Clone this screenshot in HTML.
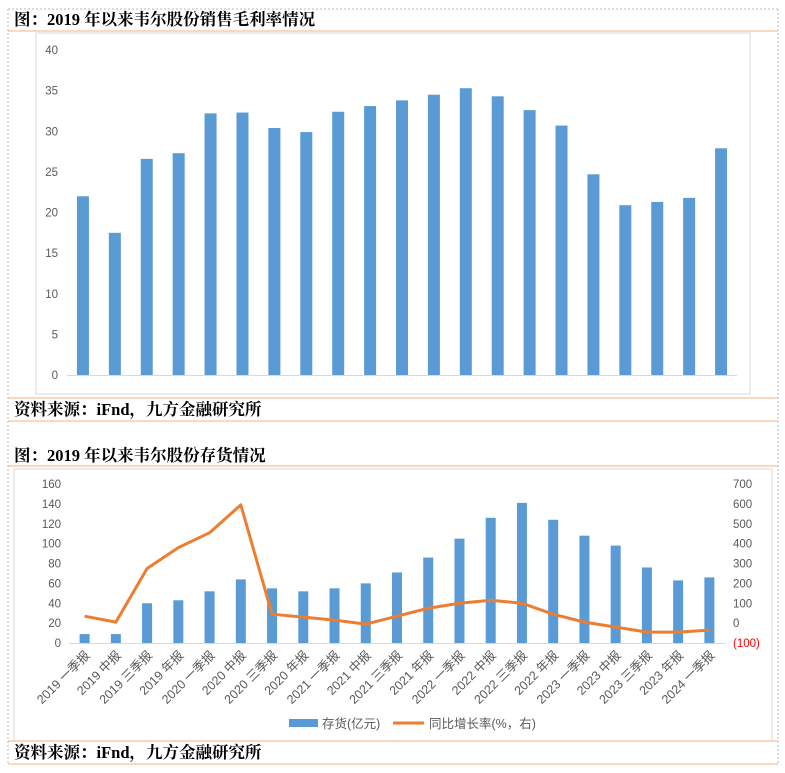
<!DOCTYPE html>
<html><head><meta charset="utf-8"><style>
body{margin:0;background:#fff;width:785px;height:773px;overflow:hidden;font-family:"Liberation Sans","Noto Sans CJK SC",sans-serif}
svg{display:block}
.t{font-family:"Liberation Serif","Noto Serif CJK SC",serif;font-weight:bold;font-size:16.5px;fill:#000}
.ax{font-size:11.5px;fill:#595959}
.xl{font-size:12.5px;fill:#595959}
</style></head><body>
<svg width="785" height="773">
<line x1="8" y1="9" x2="778" y2="9" stroke="#bbb" stroke-dasharray="2,2"/>
<line x1="8" y1="9" x2="8" y2="765" stroke="#bbb" stroke-dasharray="2,2"/>
<line x1="778" y1="9" x2="778" y2="765" stroke="#bbb" stroke-dasharray="2,2"/>
<text class="t" x="14" y="25">图：2019 年以来韦尔股份销售毛利率情况</text>
<line x1="8" y1="31" x2="778" y2="31" stroke="#f4b183"/>
<rect x="36" y="33" width="714" height="361" fill="#fff" stroke="#d9d9d9"/>
<g id="c1"></g>
<line x1="8" y1="398" x2="778" y2="398" stroke="#f4b183"/>
<text class="t" x="14" y="415">资料来源：iFnd，九方金融研究所</text>
<line x1="8" y1="421" x2="778" y2="421" stroke="#f4b183"/>
<text class="t" x="14" y="461">图：2019 年以来韦尔股份存货情况</text>
<line x1="8" y1="466" x2="778" y2="466" stroke="#f4b183"/>
<rect x="14" y="469" width="758" height="272" fill="#fff" stroke="#d9d9d9"/>
<g id="c2"></g>
<line x1="8" y1="741" x2="778" y2="741" stroke="#f4b183"/>
<text class="t" x="14" y="758">资料来源：iFnd，九方金融研究所</text>
<line x1="8" y1="764" x2="778" y2="764" stroke="#f4b183"/>
</svg>
<script>
const margin=[22.0,17.5,26.6,27.3,32.2,32.3,30.4,29.9,32.4,33.1,33.8,34.5,35.3,34.3,32.6,30.7,24.7,20.9,21.3,21.8,27.9];
const marginTicks=[0,5,10,15,20,25,30,35,40];
const cats=["2019 一季报","2019 中报","2019 三季报","2019 年报","2020 一季报","2020 中报","2020 三季报","2020 年报","2021 一季报","2021 中报","2021 三季报","2021 年报","2022 一季报","2022 中报","2022 三季报","2022 年报","2023 一季报","2023 中报","2023 三季报","2023 年报","2024 一季报"];
const inventory=[9,9,40,43,52,64,55,52,55,60,71,86,105,126,141,124,108,98,76,63,66];
const growth=[35,5,275,380,455,595,45,30,15,-5,35,75,100,115,100,45,5,-20,-45,-45,-35];
const leftTicks=[0,20,40,60,80,100,120,140,160];
const rightTicks=["(100)","0","100","200","300","400","500","600","700"];
const NS="http://www.w3.org/2000/svg";
function mk(p,t,a){const e=document.createElementNS(NS,t);for(const k in a)e.setAttribute(k,a[k]);p.appendChild(e);return e;}
const g1=document.getElementById('c1');
const x1=i=>67+(i+0.5)*(670/margin.length);
const y1=v=>375-v*(325/40);
mk(g1,'line',{x1:67,x2:737,y1:375.5,y2:375.5,stroke:'#d9d9d9'});
marginTicks.forEach(v=>{const t=mk(g1,'text',{x:58,y:y1(v)+4,'text-anchor':'end',class:'ax'});t.textContent=v;

});
margin.forEach((v,i)=>{const r=mk(g1,'rect',{x:x1(i)-6,y:y1(v),width:12,height:375-y1(v),fill:'#5b9bd5'});

});
const g2=document.getElementById('c2');
const x2=i=>69+(i+0.5)*(656/cats.length);
const yl=v=>643-v*(159/160);
const yr=v=>643-(v+100)*(159/800);
mk(g2,'line',{x1:69,x2:725,y1:643.5,y2:643.5,stroke:'#d9d9d9'});
leftTicks.forEach(v=>{const t=mk(g2,'text',{x:61,y:yl(v)+4,'text-anchor':'end',class:'ax'});t.textContent=v;

});
rightTicks.forEach((s,k)=>{const t=mk(g2,'text',{x:733,y:yr(-100+k*100)+4,class:'ax'});t.textContent=s;if(k==0)t.style.fill='#ff0000';

});
inventory.forEach((v,i)=>{const r=mk(g2,'rect',{x:x2(i)-5,y:yl(v),width:10,height:643-yl(v),fill:'#5b9bd5'});

});
const pl=mk(g2,'polyline',{points:growth.map((v,i)=>x2(i)+','+yr(v)).join(' '),fill:'none',stroke:'#ed7d31','stroke-width':3,'stroke-linejoin':'round'});


cats.forEach((c,i)=>{const t=mk(g2,'text',{x:x2(i)+6,y:656,'text-anchor':'end',class:'xl',transform:`rotate(-45 ${x2(i)+6} 656)`});t.textContent=c;

});
const lg=mk(g2,'g',{});


mk(lg,'rect',{x:289,y:719,width:29,height:8,fill:'#5b9bd5'});
const l1=mk(lg,'text',{x:322,y:728,class:'xl'});l1.textContent='存货(亿元)';
mk(lg,'line',{x1:393,x2:424,y1:723,y2:723,stroke:'#ed7d31','stroke-width':3});
const l2=mk(lg,'text',{x:429,y:728,class:'xl'});l2.textContent='同比增长率(%，右)';
</script>
</body></html>
